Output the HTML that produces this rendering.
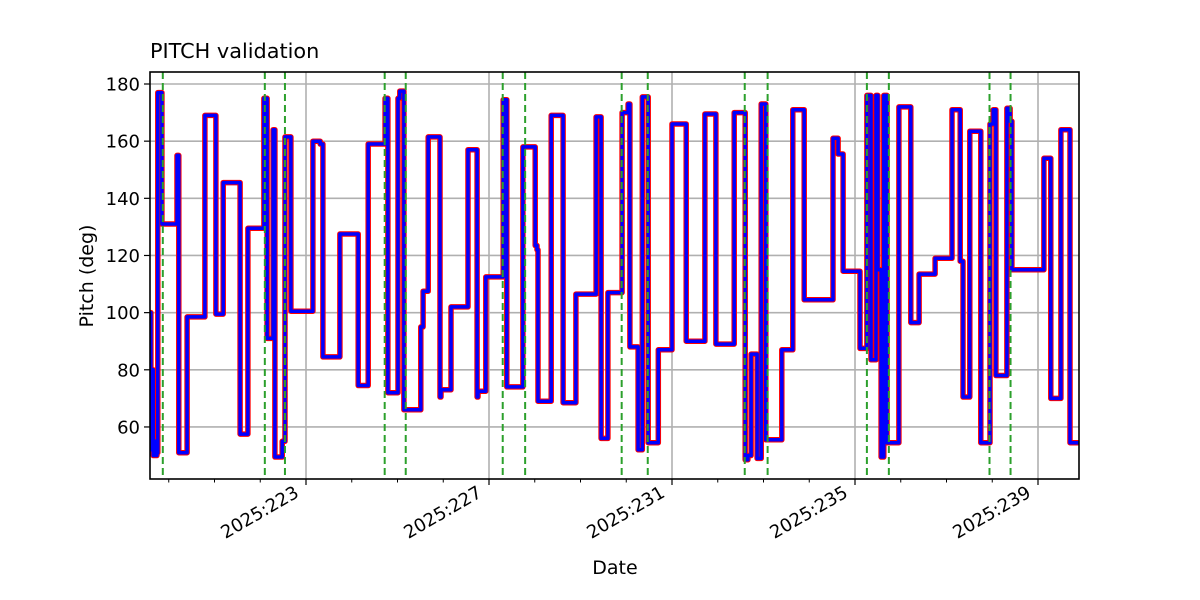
<!DOCTYPE html>
<html><head><meta charset="utf-8"><style>
body{margin:0;background:#fff}
svg{display:block;font-family:"DejaVu Sans","Liberation Sans",sans-serif}
</style></head><body>
<svg id="c" width="1200" height="600"></svg>
<script>
const times=[219.59,219.61,219.63,219.66,219.70,219.72,219.74,219.76,219.85,220.18,220.22,220.40,220.79,221.03,221.19,221.56,221.73,222.08,222.15,222.28,222.32,222.48,222.54,222.67,223.15,223.31,223.37,223.74,224.14,224.36,224.73,224.79,225.01,225.05,225.14,225.51,225.56,225.67,225.93,225.95,226.17,226.54,226.74,226.76,226.93,227.31,227.39,227.74,228.01,228.05,228.07,228.36,228.62,228.90,229.34,229.45,229.60,229.91,230.04,230.08,230.26,230.35,230.48,230.70,231.00,231.31,231.72,231.96,232.36,232.60,232.66,232.73,232.86,232.95,233.05,233.40,233.64,233.89,234.52,234.63,234.74,235.11,235.26,235.35,235.46,235.50,235.57,235.63,235.70,235.96,236.22,236.40,236.75,237.12,237.30,237.36,237.51,237.75,237.95,238.02,238.08,238.32,238.39,238.43,239.13,239.28,239.50,239.70];
const values=[100,52,80,50,55,50,51,177,131,155,51,98.5,169,99.5,145.5,57.5,129.5,175,91,164,49.5,55,161.5,100.5,160,159,84.5,127.5,74.5,159,175,72,175,177.5,66,95,107.5,161.5,70.5,73,102,157,70.5,72.5,112.5,174.5,74,158,123.5,122,69,169,68.5,106.5,168.5,56,107,170,173,88,52,175.5,54.5,87,166,90,169.5,89,170,48.5,50,85.5,49,173,55.5,87,171,104.5,161,155.5,114.5,87.5,176,83.5,176,115,49.5,176,54.5,172,96.5,113.5,119,171,118,70.5,163.5,54.5,166,171,78,171.5,167,115,154,70,164,54.5];
const endDay=239.90;
const validationDays=[219.87,222.10,222.54,224.72,225.18,227.30,227.79,229.90,230.47,232.59,233.09,235.26,235.74,237.94,238.40];
const yTicks=[60,80,100,120,140,160,180];
const xTicks=[223,227,231,235,239];
const xTickLabels=["2025:223","2025:227","2025:231","2025:235","2025:239"];

const L=150,R=1079,T=72,B=479;
const X=d=>306+(d-223)*45.75;
const Y=v=>84+(180-v)*2.858;
const svg=document.getElementById('c');
const NS='http://www.w3.org/2000/svg';
function mk(tag,attrs,parent){const e=document.createElementNS(NS,tag);for(const k in attrs)e.setAttribute(k,attrs[k]);(parent||svg).appendChild(e);return e;}

const defs=mk('defs',{});
const cp=mk('clipPath',{id:'clip'},defs);
mk('rect',{x:L,y:T,width:R-L,height:B-T},cp);

yTicks.forEach(v=>{
  const g=mk('line',{x1:L,x2:R,y1:Y(v),y2:Y(v),stroke:'#b0b0b0','stroke-width':1.6});
  
  
  const tk=mk('line',{x1:L-6,x2:L,y1:Y(v),y2:Y(v),stroke:'#000','stroke-width':1.2});
  
  
  const t=mk('text',{x:L-10,y:Y(v)+6.5,'text-anchor':'end','font-size':18,fill:'#000'});
  t.textContent=v;
  
  
});
xTicks.forEach((d,i)=>{
  const g=mk('line',{x1:X(d),x2:X(d),y1:T,y2:B,stroke:'#b0b0b0','stroke-width':1.6});
  
  
  const tk=mk('line',{x1:X(d),x2:X(d),y1:B,y2:B+6,stroke:'#000','stroke-width':1.2});
  
  
  const t=mk('text',{x:0,y:0,'text-anchor':'end','font-size':18,fill:'#000',transform:`translate(${X(d)-6},${B+17}) rotate(-30)`});
  t.textContent=xTickLabels[i];
  
  
});
for(let d=220;d<=239;d++){
  if(xTicks.includes(d))continue;
  const tk=mk('line',{x1:X(d),x2:X(d),y1:B,y2:B+3.5,stroke:'#000','stroke-width':1});
  
  
}

let p='';
for(let i=0;i<times.length;i++){
  const x0=X(times[i]),y=Y(values[i]);
  const x1=X(i+1<times.length?times[i+1]:endDay);
  p+=(i===0?'M':'L')+x0.toFixed(1)+' '+y.toFixed(1)+' L'+x1.toFixed(1)+' '+y.toFixed(1)+' ';
}
const g=mk('g',{'clip-path':'url(#clip)'});
const red=mk('path',{d:p,fill:'none',stroke:'#ff0000','stroke-width':5.5,'stroke-linejoin':'round'},g);


const blue=mk('path',{d:p,fill:'none',stroke:'#0000ff','stroke-width':3.5,'stroke-linejoin':'round'},g);



validationDays.forEach(d=>{
  const l=mk('line',{x1:X(d),x2:X(d),y1:T,y2:B,stroke:'#2ca02c','stroke-width':2,'stroke-dasharray':'7,4'});
  
  
});

const fr=mk('rect',{x:L,y:T,width:R-L,height:B-T,fill:'none',stroke:'#000','stroke-width':1.6});



const title=mk('text',{x:150,y:58,'font-size':20.8,fill:'#000'});
title.textContent='PITCH validation';


const xl=mk('text',{x:615,y:574,'text-anchor':'middle','font-size':19,fill:'#000'});
xl.textContent='Date';


const yl=mk('text',{x:0,y:0,'text-anchor':'middle','font-size':19,fill:'#000',transform:'translate(93,276) rotate(-90)'});
yl.textContent='Pitch (deg)';


</script>
</body></html>
